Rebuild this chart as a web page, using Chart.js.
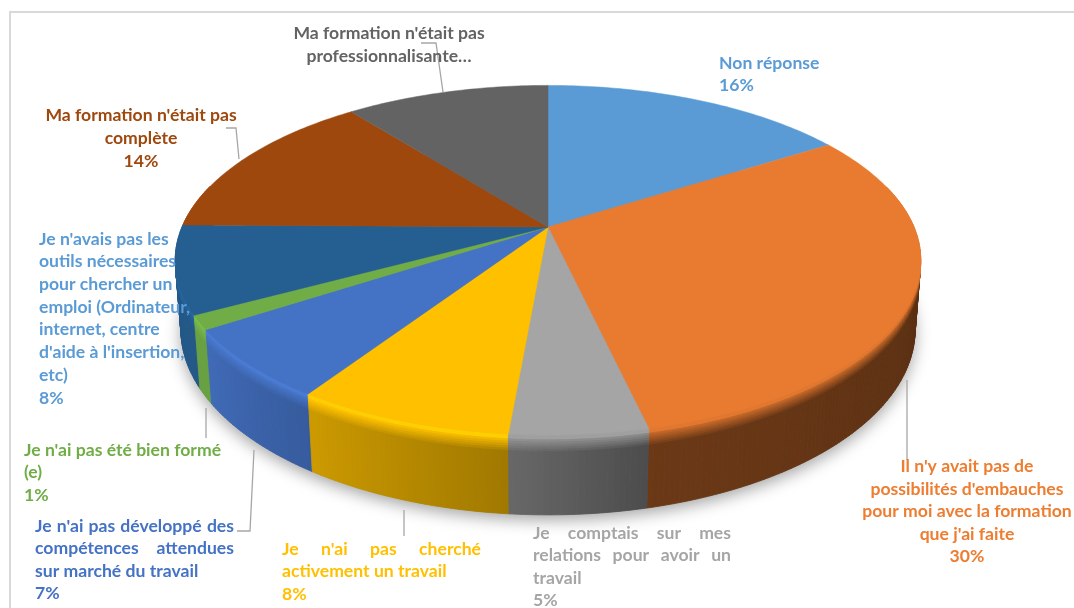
<!DOCTYPE html>
<html><head><meta charset="utf-8">
<style>html,body{margin:0;padding:0;background:#fff}canvas{display:block}</style>
<script src="https://cdn.jsdelivr.net/npm/chart.js@4"></script>
</head><body>
<div style="width:1074px;height:608px"><canvas id="c" width="1074" height="608"></canvas></div>
<script>
const categories = ["Non réponse","Il n'y avait pas de possibilités d'embauches pour moi avec la formation que j'ai faite","Je comptais sur mes relations pour avoir un travail","Je n'ai pas cherché activement un travail","Je n'ai pas développé des compétences attendues sur marché du travail","Je n'ai pas été bien formé (e)","Je n'avais pas les outils nécessaires pour chercher un emploi (Ordinateur, internet, centre d'aide à l'insertion, etc)","Ma formation n'était pas complète","Ma formation n'était pas professionnalisante…"];
const values = [16, 30.4, 5, 7.9, 6.5, 1.3, 8.1, 14.2, 10.6];
const colors = ["#5B9BD5","#E97B30","#A5A5A5","#FFC000","#4472C4","#70AD47","#255E91","#9E480E","#636363"];
const textColors = ["#5B9BD5","#ED7D31","#A5A5A5","#FFC000","#4472C4","#70AD47","#5B9BD5","#9E480E","#636363"];
const labelLines = [
 ["Non réponse","16%"],
 ["Il n'y avait pas de","possibilités d'embauches","pour moi avec la formation","que j'ai faite","30%"],
 ["Je comptais sur mes","relations pour avoir un","travail","5%"],
 ["Je n'ai pas cherché","activement un travail","8%"],
 ["Je n'ai pas développé des","compétences attendues","sur marché du travail","7%"],
 ["Je n'ai pas été bien formé","(e)","1%"],
 ["Je n'avais pas les","outils nécessaires","pour chercher un","emploi (Ordinateur,","internet, centre","d'aide à l'insertion,","etc)","8%"],
 ["Ma formation n'était pas","complète","14%"],
 ["Ma formation n'était pas","professionnalisante…"]
];
// x, first line centre y, line height, align, justified width, number of justified lines
const labelBoxes = [
 {x:719,y:63,lh:22.3,a:"left"},
 {x:967,y:466.5,lh:22.5,a:"center"},
 {x:533,y:533,lh:22.6,a:"left",jw:198,jn:2},
 {x:282,y:549.5,lh:22.3,a:"left",jw:199,jn:1},
 {x:35,y:526,lh:22.6,a:"left",jw:199,jn:2},
 {x:24,y:450,lh:22.5,a:"left"},
 {x:39,y:239,lh:22.7,a:"left"},
 {x:141,y:115,lh:23,a:"center"},
 {x:389,y:33,lh:23.5,a:"center"}
];
const leaders = [
 [[907,380],[907,460]],
 [[404,510],[404,536]],
 [[254,450],[250,531],[237,531]],
 [[206,408],[206,438]],
 [[239,159],[236,128],[226,128]],
 [[443,92],[436,43],[421,43]]
];
const sideStops = [[60,.38],[100,.38],[167,.46],[185,.63],[213,.8],[236,.93],[270,.95],[300,.95]];
const FONT = 'bold 17.6px Lato, Carlito, sans-serif';
const A = 366, B = 168.5, K = 0.19, DEPTH = 69;

function proj(el,a,d,rf){
  const u=Math.cos(a)*rf, v=Math.sin(a)*rf, w=1-K*v+0.015*d/DEPTH;
  return [el.x+A*u/w, el.y+(B*v+d)/w];
}
function side(deg){
  for(let i=1;i<sideStops.length;i++){
    if(deg<=sideStops[i][0]){const[p,q]=[sideStops[i-1],sideStops[i]];
      return p[1]+(q[1]-p[1])*Math.max(0,(deg-p[0]))/(q[0]-p[0]);}
  }
  return .95;
}
function rgb(hex,b){
  const n=parseInt(hex.slice(1),16),c=[n>>16,(n>>8)&255,n&255];
  return `rgb(${c.map(x=>Math.min(255,Math.round(x*b))).join(',')})`;
}
const pie3d = {
  id:'pie3d',
  beforeDraw(chart){
    const c=chart.ctx;c.save();c.strokeStyle='#d9d9d9';c.lineWidth=2;
    c.beginPath();c.moveTo(10,608);c.lineTo(10,12);c.lineTo(1074,12);c.stroke();c.restore();
  },
  beforeDatasetDraw(chart,args){
    const c=chart.ctx, arcs=chart.getDatasetMeta(args.index).data;
    const e0=arcs[0];
    // soft shadow under the disc
    c.save();
    c.shadowColor='rgba(0,0,0,.36)';c.shadowBlur=16;c.shadowOffsetY=5;c.fillStyle='#999';
    c.beginPath();
    for(let i=0;i<=180;i++){const p=proj(e0,i/180*2*Math.PI,DEPTH,1);i?c.lineTo(p[0],p[1]):c.moveTo(p[0],p[1]);}
    c.closePath();c.fill();c.restore();
    // side wall, back to front
    const bands=[0,2,4,6,8,10,12,14,DEPTH], strips=[];
    arcs.forEach((el,i)=>{
      const step=0.75*Math.PI/180;
      const n=Math.max(1,Math.ceil((el.endAngle-el.startAngle)/step));
      for(let j=0;j<n;j++){
        const a0=el.startAngle+(el.endAngle-el.startAngle)*j/n,a1=el.startAngle+(el.endAngle-el.startAngle)*(j+1)/n;
        if(Math.sin((a0+a1)/2)>-0.25) strips.push({a0,a1,i,el});
      }
    });
    strips.sort((s,t)=>Math.sin((s.a0+s.a1)/2)-Math.sin((t.a0+t.a1)/2));
    strips.forEach(s=>{
      const deg=(((s.a0+s.a1)/2+Math.PI/2)*180/Math.PI+360)%360, f=side(deg), hi=deg>185?1.08:.97;
      for(let b=0;b<bands.length-1;b++){
        const d0=bands[b],d1=bands[b+1];
        const t=Math.min(1,d0/14);
        const br=d0<3?hi:(hi+(f-hi)*t);
        const p=[proj(s.el,s.a0,d0,1),proj(s.el,s.a1,d0,1),proj(s.el,s.a1,d1,1),proj(s.el,s.a0,d1,1)];
        c.fillStyle=c.strokeStyle=rgb(colors[s.i],br);c.lineWidth=.8;
        c.beginPath();c.moveTo(p[0][0],p[0][1]);for(let q=1;q<4;q++)c.lineTo(p[q][0],p[q][1]);c.closePath();c.fill();c.stroke();
      }
    });
    // top surface
    arcs.forEach((el,i)=>{
      c.fillStyle=c.strokeStyle=colors[i];c.lineWidth=.5;
      c.beginPath();c.moveTo(el.x,el.y);
      const n=Math.max(2,Math.ceil((el.endAngle-el.startAngle)*60));
      for(let j=0;j<=n;j++){const p=proj(el,el.startAngle+(el.endAngle-el.startAngle)*j/n,0,1);c.lineTo(p[0],p[1]);}
      c.closePath();c.fill();c.stroke();
    });
    return false;
  },
  afterDraw(chart){
    const c=chart.ctx;c.save();
    c.strokeStyle='#a6a6a6';c.lineWidth=1.3;
    leaders.forEach(l=>{c.beginPath();l.forEach((p,i)=>i?c.lineTo(p[0],p[1]):c.moveTo(p[0],p[1]));c.stroke();});
    c.font=FONT;c.textBaseline='middle';
    labelLines.forEach((lines,i)=>{
      const b=labelBoxes[i];c.fillStyle=textColors[i];
      lines.forEach((ln,j)=>{
        const y=b.y+j*b.lh;
        if(b.jn&&j<b.jn){
          const ws=ln.split(' '),tw=ws.reduce((s,w)=>s+c.measureText(w).width,0);
          const gap=(b.jw-tw)/(ws.length-1);let x=b.x;c.textAlign='left';
          ws.forEach(w=>{c.fillText(w,x,y);x+=c.measureText(w).width+gap;});
        } else {c.textAlign=b.a;c.fillText(ln,b.x,y);}
      });
    });
    c.restore();
  }
};
new Chart(document.getElementById('c'),{
  type:'pie',
  data:{labels:categories,datasets:[{data:values,backgroundColor:colors,borderWidth:0}]},
  options:{responsive:false,animation:false,layout:{padding:{left:22,right:0,top:0,bottom:154}},
    plugins:{legend:{display:false},tooltip:{enabled:false}}},
  plugins:[pie3d]
});
</script>
</body></html>
